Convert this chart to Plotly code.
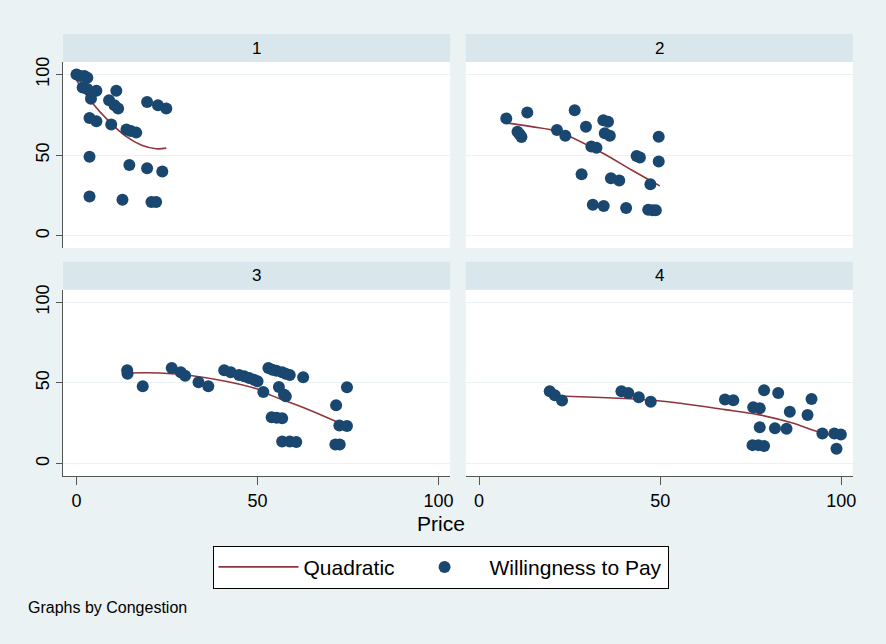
import plotly.graph_objects as go

# ---------------- data ----------------
panel_labels = ["1", "2", "3", "4"]

price1 = [0, 1, 2.2, 3, 1.7, 3, 5.5, 4, 4, 11, 9, 10.5, 11.5, 19.5, 22.5, 24.8,
          3.6, 5.5, 9.6, 13.8, 15, 16.5, 3.6, 14.6, 19.5, 23.7, 3.6, 12.7, 20.7, 22]
wtp1 = [100, 99, 99, 98, 92, 91, 90, 89, 85, 90, 84, 81, 79, 83, 81, 79,
        73, 71, 69, 66, 65, 64, 49, 44, 42, 40, 24.5, 22.5, 21, 21]

price2 = [7.5, 13.3, 10.6, 11.2, 11.7, 21.5, 23.8, 26.4, 29.5, 31, 32.4, 34.3, 35.6,
          34.7, 36.1, 28.3, 36.4, 38.7, 43.5, 44.4, 49.6, 49.6, 47.3, 31.4, 34.4,
          40.6, 46.7, 47.9, 48.8]
wtp2 = [72.8, 76.5, 64.6, 63, 61.3, 65.6, 62, 77.8, 67.7, 55.4, 54.7, 71.6, 70.8,
        63.6, 62.1, 38.3, 35.8, 34.4, 49.6, 48.6, 61.5, 46.1, 32.1, 19.3, 18.5,
        17.3, 16.2, 16, 15.9]

price3 = [14, 14.1, 18.3, 26.3, 28.8, 30, 33.7, 36.4, 40.8, 42.6, 44.9, 46.3, 47.7,
          49, 50, 51.6, 53, 54.1, 55.2, 56.8, 57.8, 58.9, 62.6, 55.9, 57.3, 57.8,
          53.9, 55.3, 56.8, 56.8, 58.9, 60.7, 71.7, 74.7, 72.6, 74.7, 71.5, 72.7]
wtp3 = [57.8, 55.7, 48, 59.3, 56.6, 54.5, 50.4, 48, 57.8, 56.6, 54.9, 54.1, 53.1,
        52, 51, 44.4, 59.3, 58.2, 57.5, 56.6, 55.7, 54.9, 53.5, 47.5, 42.8, 41.8,
        28.8, 28.5, 28.2, 13.8, 13.8, 13.4, 36.2, 47.3, 23.7, 23.3, 11.9, 11.9]

price4 = [19.5, 20.9, 22.9, 39.3, 41.2, 44.1, 47.4, 67.9, 70.2, 78.7, 82.6, 75.7,
          77.5, 85.8, 91.8, 90.7, 77.5, 81.7, 84.9, 75.5, 77.1, 78.7, 94.8, 98.1,
          99.9, 98.7]
wtp4 = [44.9, 42.4, 39.1, 44.9, 43.8, 41.2, 38.3, 39.7, 39.3, 45.5, 43.8, 35,
        34.4, 32.1, 40.1, 30.2, 22.6, 22, 21.6, 11.5, 11.5, 10.9, 18.7, 18.7,
        18.1, 9.3]

# quadratic fit lines
fit_price1 = [0, 4, 9, 13.8, 18, 22, 24.8]
fit_wtp1 = [96.5, 83.5, 71, 61.5, 56.2, 54, 54.4]
fit_price2 = [7.5, 14.5, 21.8, 33.8, 42, 49.9]
fit_wtp2 = [70, 67.7, 64.6, 51.7, 41, 31]
fit_price3 = [14, 22.9, 32, 41.2, 50.4, 54.1, 63.3, 72.5, 74.7]
fit_wtp3 = [56.2, 56.2, 54.5, 51, 45.9, 42, 34.2, 25.3, 23]
fit_price4 = [19.5, 23.7, 49.4, 67.9, 77.1, 86.3, 94.6, 100]
fit_wtp4 = [42, 41.8, 39, 33.5, 30.4, 25.3, 19.1, 16.5]

x_ticks = [0, 50, 100]
y_ticks = [0, 50, 100]

# ---------------- styling ----------------
W, H = 886, 644
FONT = "Liberation Sans, Arial, Helvetica, sans-serif"
BG = "#EAF2F3"
STRIP = "#D9E6EB"
NAVY = "#1A476F"
MAROON = "#90353B"
AXIS = "#555555"

def px_x(p):
    return p / W

def px_y(p):
    return 1 - p / H

# panel geometry in pixels (left, right, top, bottom)
cols = [(63.3, 451.7), (467.3, 855.7)]
rows = [(57.5, 245.0), (287.0, 474.5)]
strip_h = 28.2

scatter_sets = [(price1, wtp1), (price2, wtp2), (price3, wtp3), (price4, wtp4)]
fit_sets = [(fit_price1, fit_wtp1), (fit_price2, fit_wtp2),
            (fit_price3, fit_wtp3), (fit_price4, fit_wtp4)]

fig = go.Figure()
shapes = []
annotations = []
layout_axes = {}

for i in range(4):
    r, c = divmod(i, 2)
    xl, xr = cols[c]
    yt, yb = rows[r]
    sfx = "" if i == 0 else str(i + 1)
    xa, ya = "x" + sfx, "y" + sfx
    fx, fy = fit_sets[i]
    sx, sy = scatter_sets[i]
    fig.add_trace(go.Scatter(
        x=fx, y=fy, mode="lines", name="Quadratic",
        line=dict(color=MAROON, width=1.6, shape="spline", smoothing=1.0),
        xaxis=xa, yaxis=ya, showlegend=(i == 0), legendrank=1))
    fig.add_trace(go.Scatter(
        x=sx, y=sy, mode="markers", name="Willingness to Pay",
        marker=dict(color=NAVY, size=12, line=dict(width=0)),
        xaxis=xa, yaxis=ya, showlegend=(i == 0), legendrank=2))

    bottom = (r == 1)
    left = (c == 0)
    layout_axes["xaxis" + sfx] = dict(
        domain=[px_x(xl), px_x(xr)], anchor=ya, range=[-3.7, 103.2],
        showgrid=False, zeroline=False,
        showline=bottom, linecolor=AXIS, linewidth=1.3,
        ticks="outside" if bottom else "", ticklen=8, tickwidth=1.3, tickcolor=AXIS,
        tickvals=x_ticks, showticklabels=bottom,
        tickfont=dict(family=FONT, size=18, color="black"))
    layout_axes["yaxis" + sfx] = dict(
        domain=[px_y(yb), px_y(yt)], anchor=xa, range=[-7.5, 107.7],
        showgrid=True, gridcolor=BG, gridwidth=1.2, zeroline=False,
        showline=left, linecolor=AXIS, linewidth=1.3,
        ticks="outside" if left else "", ticklen=6, tickwidth=1.3, tickcolor=AXIS,
        tickvals=y_ticks, showticklabels=left, tickangle=-90,
        tickfont=dict(family=FONT, size=18, color="black"))

    # strip (panel title bar)
    shapes.append(dict(type="rect", xref="paper", yref="paper",
                       x0=px_x(xl), x1=px_x(xr),
                       y0=px_y(yt), y1=px_y(yt - strip_h),
                       fillcolor=STRIP, line=dict(width=0), layer="below"))
    annotations.append(dict(text=panel_labels[i], xref="paper", yref="paper",
                            x=px_x((xl + xr) / 2), y=px_y(yt - strip_h / 2),
                            xanchor="center", yanchor="middle", showarrow=False,
                            font=dict(family=FONT, size=17, color="black")))

annotations.append(dict(text="Price", xref="paper", yref="paper",
                        x=px_x(442), y=px_y(523), xanchor="center", yanchor="middle",
                        showarrow=False, font=dict(family=FONT, size=21, color="black")))
annotations.append(dict(text="Graphs by Congestion", xref="paper", yref="paper",
                        x=px_x(26), y=px_y(607), xanchor="left", yanchor="middle",
                        showarrow=False, font=dict(family=FONT, size=16, color="black")))

fig.update_layout(
    width=W, height=H,
    margin=dict(l=0, r=0, t=0, b=0),
    paper_bgcolor=BG, plot_bgcolor="white",
    font=dict(family=FONT, color="black"),
    shapes=shapes, annotations=annotations,
    legend=dict(orientation="h", x=px_x(442), xanchor="center",
                y=px_y(545), yanchor="top",
                bgcolor="white", bordercolor="black", borderwidth=1,
                font=dict(family=FONT, size=21, color="black"),
                traceorder="normal", entrywidth=0, itemwidth=80),
    **layout_axes,
)

fig.write_html(
    "out.html",
    config={"displayModeBar": False},
    post_script="document.body.style.margin='0';document.body.style.padding='0';"
                "document.body.style.overflow='hidden';"
                "document.body.style.background='%s';" % BG,
)
